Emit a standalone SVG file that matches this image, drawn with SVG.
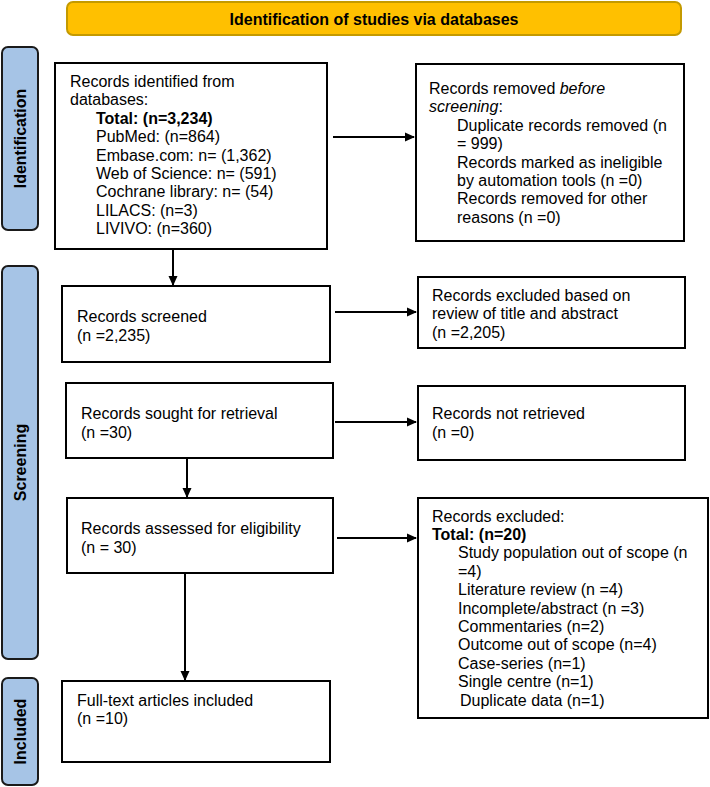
<svg xmlns="http://www.w3.org/2000/svg" width="710" height="787" viewBox="0 0 710 787">
<defs>
<marker id="ah" markerWidth="10" markerHeight="10" refX="9" refY="5" orient="auto" markerUnits="userSpaceOnUse">
<path d="M0,0.5 L10,5 L0,9.5 Z" fill="#000"/>
</marker>
<style>
.box{fill:#fff;stroke:#000;stroke-width:2}
.side{fill:#a6c4e6;stroke:#1a1a1a;stroke-width:2}
.hdr{fill:#ffc000;stroke:#c49a00;stroke-width:2}
.t{font-family:"Liberation Sans",Arial,sans-serif;font-size:16px;fill:#000}
.b{font-weight:bold}
.st{font-family:"Liberation Sans",Arial,sans-serif;font-size:16px;font-weight:bold;fill:#000;text-anchor:middle}
.c{stroke:#000;stroke-width:2;fill:none;marker-end:url(#ah)}
</style>
</defs>
<rect width="710" height="787" fill="#fff"/>
<g id="header">
<rect class="hdr" x="67" y="2" width="614" height="33" rx="6"/>
<text class="st" x="374" y="25">Identification of studies via databases</text>
</g>
<g id="side-identification">
<rect class="side" x="2" y="47" width="36" height="183" rx="6"/>
<text class="st" transform="translate(26,138.5) rotate(-90)">Identification</text>
</g>
<g id="side-screening">
<rect class="side" x="2" y="266" width="36" height="393" rx="6"/>
<text class="st" transform="translate(26,462.5) rotate(-90)">Screening</text>
</g>
<g id="side-included">
<rect class="side" x="2" y="678" width="36" height="107" rx="6"/>
<text class="st" transform="translate(26,731.5) rotate(-90)">Included</text>
</g>
<g id="identified">
<rect class="box" x="55" y="63" width="272" height="186"/>
<text class="t" x="70" y="87">Records identified from</text>
<text class="t" x="70" y="105.4">databases:</text>
<text class="t b" x="96" y="123.8">Total: (n=3,234)</text>
<text class="t" x="96" y="142.2">PubMed: (n=864)</text>
<text class="t" x="96" y="160.6">Embase.com: n= (1,362)</text>
<text class="t" x="96" y="179">Web of Science: n= (591)</text>
<text class="t" x="96" y="197.4">Cochrane library: n= (54)</text>
<text class="t" x="96" y="215.8">LILACS: (n=3)</text>
<text class="t" x="96" y="234.2">LIVIVO: (n=360)</text>
</g>
<g id="removed">
<rect class="box" x="416" y="64" width="268" height="177"/>
<text class="t" x="429" y="94">Records removed <tspan font-style="italic">before</tspan></text>
<text class="t" x="429" y="112.4"><tspan font-style="italic">screening</tspan>:</text>
<text class="t" x="457" y="130.8">Duplicate records removed (n</text>
<text class="t" x="457" y="149.2">= 999)</text>
<text class="t" x="457" y="167.6">Records marked as ineligible</text>
<text class="t" x="457" y="186">by automation tools (n =0)</text>
<text class="t" x="457" y="204.4">Records removed for other</text>
<text class="t" x="457" y="222.8">reasons (n =0)</text>
</g>
<g id="screened">
<rect class="box" x="62" y="286" width="268" height="76"/>
<text class="t" x="77" y="322">Records screened</text>
<text class="t" x="77" y="340.5">(n =2,235)</text>
</g>
<g id="excluded-title">
<rect class="box" x="418" y="277" width="267" height="71"/>
<text class="t" x="432" y="300.5">Records excluded based on</text>
<text class="t" x="432" y="319">review of title and abstract</text>
<text class="t" x="432" y="337.5">(n =2,205)</text>
</g>
<g id="sought">
<rect class="box" x="66" y="383" width="267" height="75"/>
<text class="t" x="81" y="418.5">Records sought for retrieval</text>
<text class="t" x="81" y="437.5">(n =30)</text>
</g>
<g id="not-retrieved">
<rect class="box" x="418" y="386" width="267" height="74"/>
<text class="t" x="432" y="418.5">Records not retrieved</text>
<text class="t" x="432" y="437.5">(n =0)</text>
</g>
<g id="assessed">
<rect class="box" x="67" y="498" width="266" height="75"/>
<text class="t" x="81" y="533.5">Records assessed for eligibility</text>
<text class="t" x="81" y="552.5">(n = 30)</text>
</g>
<g id="excluded">
<rect class="box" x="418" y="498" width="290" height="220"/>
<text class="t" x="432" y="521.5">Records excluded:</text>
<text class="t b" x="432" y="539.9">Total: (n=20)</text>
<text class="t" x="458" y="558.3">Study population out of scope (n</text>
<text class="t" x="458" y="576.7">=4)</text>
<text class="t" x="458" y="595.1">Literature review (n =4)</text>
<text class="t" x="458" y="613.5">Incomplete/abstract (n =3)</text>
<text class="t" x="458" y="631.9">Commentaries (n=2)</text>
<text class="t" x="458" y="650.3">Outcome out of scope (n=4)</text>
<text class="t" x="458" y="668.7">Case-series (n=1)</text>
<text class="t" x="458" y="687.1">Single centre (n=1)</text>
<text class="t" x="460" y="705.5">Duplicate data (n=1)</text>
</g>
<g id="included">
<rect class="box" x="62" y="681" width="268" height="81"/>
<text class="t" x="77" y="705.5">Full-text articles included</text>
<text class="t" x="77" y="724">(n =10)</text>
</g>
<g id="connectors">
<line class="c" x1="333" y1="137" x2="414" y2="137"/>
<line class="c" x1="173" y1="249" x2="173" y2="285"/>
<line class="c" x1="335" y1="312" x2="416" y2="312"/>
<line class="c" x1="335" y1="422" x2="416" y2="422"/>
<line class="c" x1="187" y1="458" x2="187" y2="497"/>
<line class="c" x1="337" y1="538" x2="416" y2="538"/>
<line class="c" x1="185" y1="573" x2="185" y2="680"/>
</g>
</svg>
